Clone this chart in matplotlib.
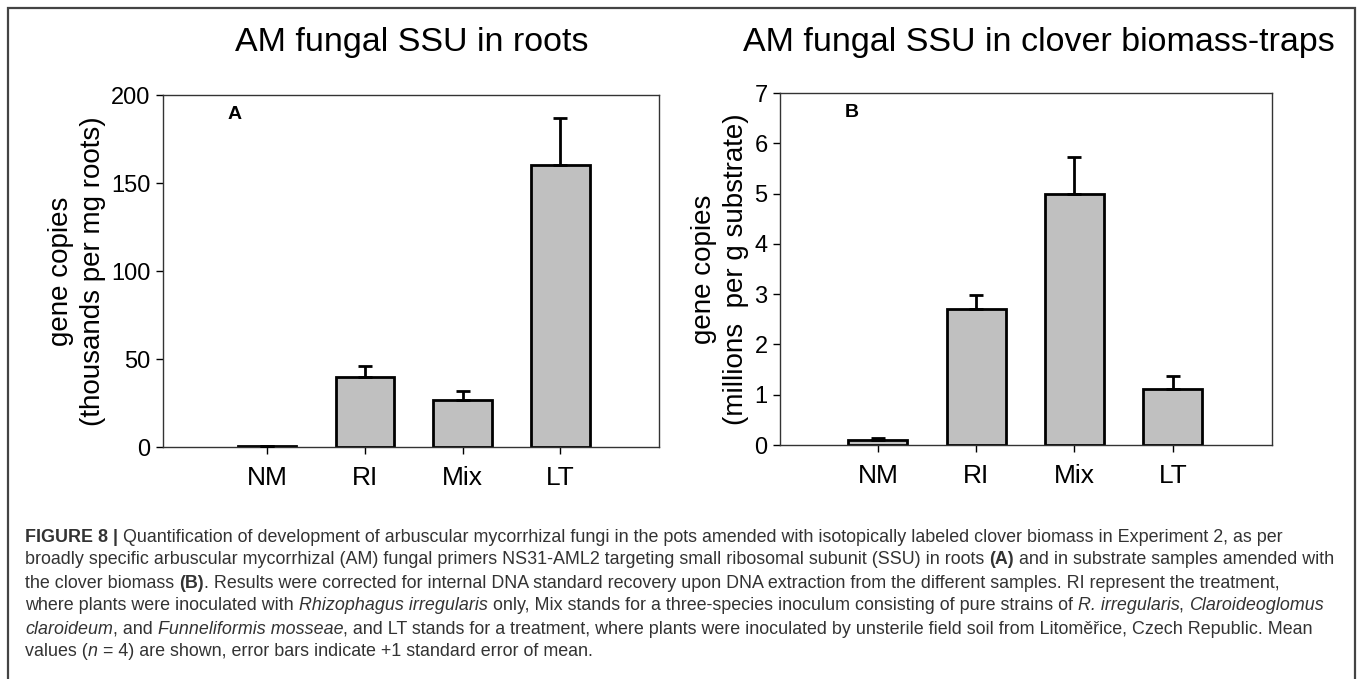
import matplotlib
matplotlib.use('Agg')
import matplotlib.pyplot as plt
from matplotlib.patches import Rectangle

plt.rcParams['font.family'] = ['Liberation Sans', 'DejaVu Sans']

# data
groups = ['NM', 'RI', 'Mix', 'LT']
roots_mean = [0.3, 40, 26.5, 160]
roots_se = [0.4, 6, 5.5, 27]
traps_mean = [0.1, 2.7, 5.0, 1.12]
traps_se = [0.03, 0.29, 0.73, 0.26]

W, H = 1357, 679
fig = plt.figure(figsize=(W / 100, H / 100), dpi=100)

# outer frame
fig.patches.append(Rectangle((8 / W, -0.01), (1355 - 8) / W, (H - 8) / H + 0.01,
                             transform=fig.transFigure, fill=False,
                             edgecolor='#444444', linewidth=1.6))


def panel(rect, vals, errs, ylim, yticks, xlim, ylabel, letter, title, title_x):
    ax = fig.add_axes(rect)
    x = range(len(groups))
    ax.bar(x, vals, width=0.6, color='#c0c0c0', edgecolor='black', linewidth=2, zorder=2)
    ax.errorbar(x, vals, yerr=[[0] * len(errs), errs], fmt='none', ecolor='black',
                elinewidth=2, capsize=5, capthick=2, zorder=3)
    ax.set_xlim(*xlim)
    ax.set_ylim(*ylim)
    ax.set_yticks(yticks)
    ax.set_xticks(list(x))
    ax.set_xticklabels(groups, fontsize=19)
    ax.tick_params(axis='y', labelsize=17, length=5, width=1, pad=4)
    ax.tick_params(axis='x', length=5, width=1, pad=9)
    for s in ax.spines.values():
        s.set_color('#333333')
        s.set_linewidth(1)
    ax.set_ylabel(ylabel, fontsize=20, linespacing=1.3, labelpad=4)
    ax.text(0.145, 0.945, letter, transform=ax.transAxes, fontsize=14,
            fontweight='bold', va='center', ha='center')
    fig.text(title_x / W, 1 - 43 / H, title, fontsize=24.5, ha='center', va='center')
    return ax


panel([163 / W, 1 - 447 / H, 496 / W, 352 / H], roots_mean, roots_se, (0, 200),
      [0, 50, 100, 150, 200], (-1.065, 4.01),
      'gene copies\n(thousands per mg roots)', 'A', 'AM fungal SSU in roots', 412)
panel([780 / W, 1 - 445 / H, 492 / W, 352 / H], traps_mean, traps_se, (0, 7),
      range(8), (-0.997, 4.01),
      'gene copies\n(millions  per g substrate)', 'B',
      'AM fungal SSU in clover biomass-traps', 1039)

# caption
caption = [
    [('FIGURE 8 | ', 'b'), ('Quantification of development of arbuscular mycorrhizal fungi in the pots amended with isotopically labeled clover biomass in Experiment 2, as per', 'n')],
    [('broadly specific arbuscular mycorrhizal (AM) fungal primers NS31-AML2 targeting small ribosomal subunit (SSU) in roots ', 'n'), ('(A)', 'b'), (' and in substrate samples amended with', 'n')],
    [('the clover biomass ', 'n'), ('(B)', 'b'), ('. Results were corrected for internal DNA standard recovery upon DNA extraction from the different samples. RI represent the treatment,', 'n')],
    [('where plants were inoculated with ', 'n'), ('Rhizophagus irregularis', 'i'), (' only, Mix stands for a three-species inoculum consisting of pure strains of ', 'n'), ('R. irregularis', 'i'), (', ', 'n'), ('Claroideoglomus', 'i')],
    [('claroideum', 'i'), (', and ', 'n'), ('Funneliformis mosseae', 'i'), (', and LT stands for a treatment, where plants were inoculated by unsterile field soil from Litoměřice, Czech Republic. Mean', 'n')],
    [('values (', 'n'), ('n', 'i'), (' = 4) are shown, error bars indicate +1 standard error of mean.', 'n')],
]

renderer = fig.canvas.get_renderer()
y0 = 537
for i, line in enumerate(caption):
    xp = 25
    for txt, st in line:
        t = fig.text(xp / W, 1 - (y0 + i * 23.0) / H, txt, fontsize=12.9, color='#333333',
                     va='center', ha='left',
                     fontweight='bold' if st == 'b' else 'normal',
                     fontstyle='italic' if st == 'i' else 'normal')
        bb = t.get_window_extent(renderer)
        xp += bb.width

fig.savefig('out.png', dpi=100)
